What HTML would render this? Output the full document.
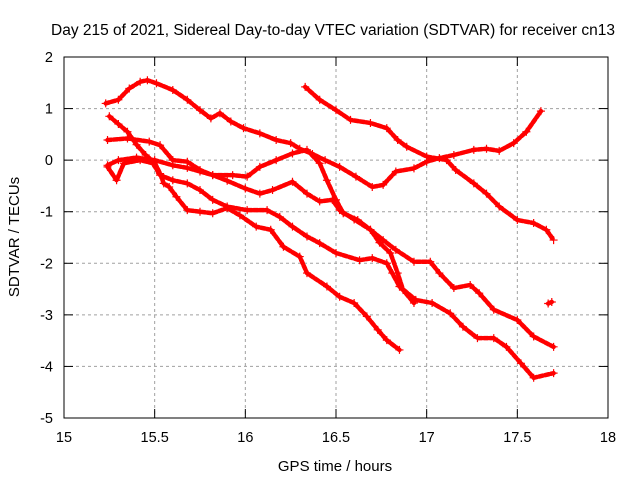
<!DOCTYPE html>
<html><head><meta charset="utf-8"><style>
body{margin:0;background:#fff}
svg{display:block;font-family:"Liberation Sans",sans-serif}
</style></head><body>
<svg id="c" width="640" height="480">
<text x="333" y="35" font-size="15.5" text-anchor="middle">Day 215 of 2021, Sidereal Day-to-day VTEC variation (SDTVAR) for receiver cn13</text>
<text x="335" y="471" font-size="15" text-anchor="middle">GPS time / hours</text>
<text x="19" y="237" font-size="15" text-anchor="middle" transform="rotate(-90 19 237)">SDTVAR / TECUs</text>
<g id="grid"></g>
<g id="ticks"></g>
<g id="series"></g>
<rect x="64" y="57" width="544" height="361" fill="none" stroke="#000" stroke-width="1"/>
</svg>
<script>
const xTicks=[15,15.5,16,16.5,17,17.5,18];
const xTickLabels=["15","15.5","16","16.5","17","17.5","18"];
const yTicks=[2,1,0,-1,-2,-3,-4,-5];
const yTickLabels=["2","1","0","-1","-2","-3","-4","-5"];
const sA_t=[15.23,15.3,15.36,15.42,15.46,15.51,15.6,15.68,15.75,15.81,15.86,15.92,15.99,16.08,16.17,16.25,16.3,16.37,16.44,16.52,16.61,16.7,16.76,16.83,16.93,17.0,17.07,17.15,17.26,17.33,17.4,17.48,17.55,17.63];
const sA_v=[1.1,1.17,1.39,1.52,1.55,1.49,1.36,1.17,0.97,0.81,0.91,0.75,0.62,0.52,0.39,0.33,0.22,0.12,0.0,-0.13,-0.32,-0.52,-0.48,-0.22,-0.16,-0.03,0.04,0.1,0.2,0.22,0.18,0.33,0.55,0.95];
const sB_t=[16.33,16.41,16.5,16.58,16.69,16.78,16.84,16.89,17.0,17.11,17.16,17.26,17.33,17.4,17.5,17.59,17.66,17.7];
const sB_v=[1.42,1.17,0.97,0.78,0.72,0.62,0.39,0.26,0.07,0.0,-0.19,-0.45,-0.65,-0.9,-1.16,-1.22,-1.35,-1.55];
const sC_t=[15.24,15.3,15.4,15.5,15.6,15.68,15.75,15.82,15.93,16.01,16.08,16.17,16.26,16.34,16.41,16.45,16.5,16.54,16.62,16.69,16.74,16.8,16.84,16.87,16.93];
const sC_v=[-0.1,0.0,0.05,0.0,-0.1,-0.15,-0.22,-0.29,-0.29,-0.32,-0.13,0.0,0.13,0.2,-0.06,-0.39,-0.77,-1.03,-1.16,-1.35,-1.6,-1.8,-2.19,-2.52,-2.77];
const sD_t=[15.24,15.29,15.33,15.42,15.49,15.53,15.6,15.68,15.75,15.82,15.9,16.01,16.12,16.19,16.26,16.34,16.41,16.5,16.63,16.7,16.78,16.81,16.85,16.94,17.03,17.13,17.2,17.28,17.37,17.44,17.52,17.59,17.7];
const sD_v=[-0.13,-0.39,-0.06,0.0,-0.06,-0.29,-0.39,-0.45,-0.58,-0.77,-0.9,-0.97,-0.97,-1.1,-1.29,-1.48,-1.61,-1.8,-1.94,-1.9,-2.0,-2.19,-2.45,-2.71,-2.77,-2.97,-3.23,-3.45,-3.45,-3.62,-3.94,-4.22,-4.13];
const sE_t=[15.25,15.3,15.35,15.4,15.45,15.5,15.53,15.55,15.58,15.62,15.68,15.75,15.82,15.9,15.97,16.06,16.14,16.21,16.3,16.34,16.45,16.52,16.6,16.67,16.73,16.78,16.85];
const sE_v=[0.85,0.7,0.55,0.3,0.1,-0.05,-0.26,-0.45,-0.52,-0.71,-0.97,-1.0,-1.03,-0.93,-1.07,-1.29,-1.35,-1.68,-1.87,-2.19,-2.45,-2.65,-2.77,-3.03,-3.29,-3.49,-3.68];
const sF_t=[15.24,15.35,15.47,15.53,15.6,15.68,15.75,15.82,15.9,16.0,16.08,16.15,16.26,16.34,16.41,16.48,16.52,16.6,16.69,16.76,16.83,16.93,17.02,17.07,17.15,17.24,17.29,17.37,17.5,17.59,17.7];
const sF_v=[0.39,0.42,0.36,0.29,0.0,-0.03,-0.19,-0.29,-0.4,-0.55,-0.65,-0.58,-0.42,-0.65,-0.8,-0.77,-0.97,-1.15,-1.35,-1.55,-1.74,-1.97,-1.97,-2.19,-2.48,-2.42,-2.58,-2.9,-3.1,-3.42,-3.62];
const sG_t=[17.67,17.69];
const sG_v=[-2.78,-2.75];
const series=[[sA_t,sA_v,'series-a'],[sB_t,sB_v,'series-b'],[sC_t,sC_v,'series-c'],[sD_t,sD_v,'series-d'],[sE_t,sE_v,'series-e'],[sF_t,sF_v,'series-f'],[sG_t,sG_v,'series-g']];
const NS='http://www.w3.org/2000/svg';
const X=t=>64+(t-15)*544/3;
const Y=v=>57+(2-v)*361/7;
function mk(tag,attrs,parent){const e=document.createElementNS(NS,tag);for(const k in attrs)e.setAttribute(k,attrs[k]);parent.appendChild(e);return e;}
const grid=document.getElementById('grid'),ticks=document.getElementById('ticks'),sg=document.getElementById('series');
xTicks.forEach((t,i)=>{
  const x=X(t);
  if(i>0&&i<xTicks.length-1){const g=mk('line',{x1:x,x2:x,y1:57,y2:418,stroke:'#a0a0a0','stroke-dasharray':'3,3'},grid);
  
  }
  mk('line',{x1:x,x2:x,y1:418,y2:409,stroke:'#000'},ticks);
  mk('line',{x1:x,x2:x,y1:57,y2:66,stroke:'#000'},ticks);
  const l=mk('text',{x:x,y:442,'font-size':14.5,'text-anchor':'middle'},ticks);l.textContent=xTickLabels[i];
  
  
});
yTicks.forEach((v,i)=>{
  const y=Y(v);
  if(i>0&&i<yTicks.length-1){const g=mk('line',{x1:64,x2:608,y1:y,y2:y,stroke:'#a0a0a0','stroke-dasharray':'3,3'},grid);
  
  }
  mk('line',{x1:64,x2:73,y1:y,y2:y,stroke:'#000'},ticks);
  mk('line',{x1:599,x2:608,y1:y,y2:y,stroke:'#000'},ticks);
  const l=mk('text',{x:53,y:y+5,'font-size':14.5,'text-anchor':'end'},ticks);l.textContent=yTickLabels[i];
  
  
});
series.forEach(([ts,vs,name])=>{
  const g=mk('g',{},sg);
  
  
  const pts=ts.map((t,i)=>X(t)+','+Y(vs[i])).join(' ');
  mk('polyline',{points:pts,fill:'none',stroke:'#f00','stroke-width':4.5,'stroke-linejoin':'round','stroke-linecap':'round','stroke-dasharray':'4,2'},g);
  ts.forEach((t,i)=>{const x=X(t),y=Y(vs[i]);
    mk('path',{d:`M${x-4},${y}h8M${x},${y-4}v8`,stroke:'#f00','stroke-width':1.2},g);});
});
</script>
</body></html>
